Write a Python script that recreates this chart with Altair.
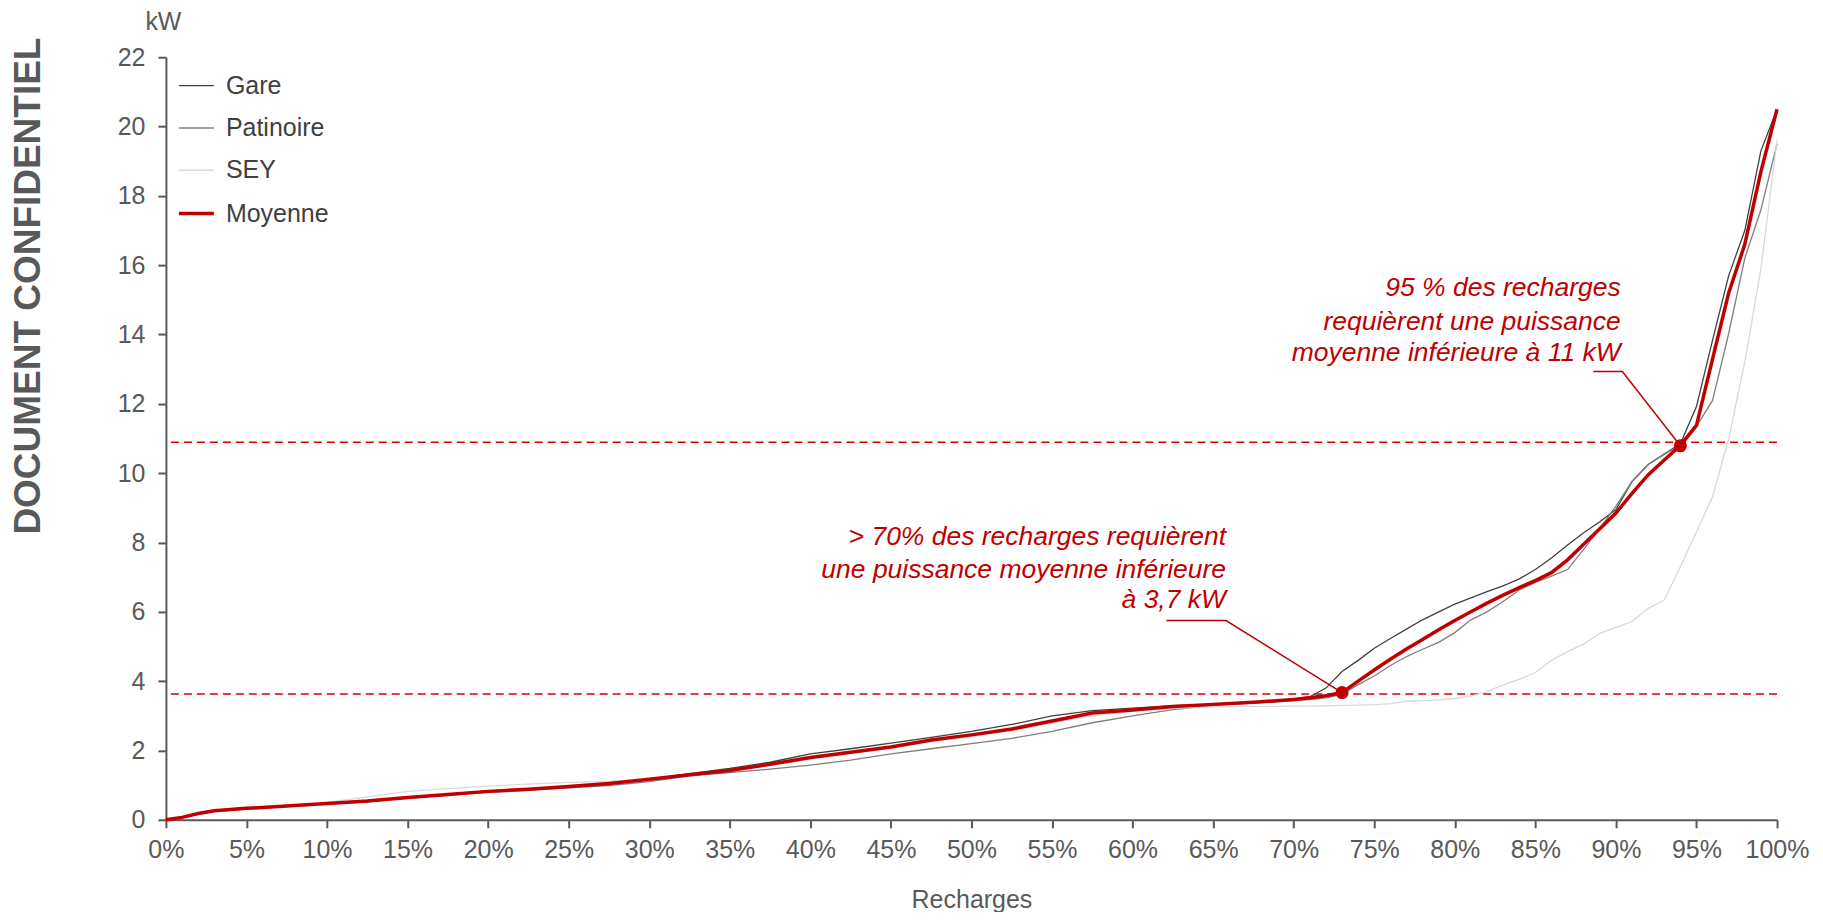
import altair as alt
import pandas as pd

# ---------------- data ----------------
recharges = [0, 1, 2, 3, 5, 7.5, 10, 12.5, 15, 17.5, 20, 22.5, 25, 27.5, 30, 32.5, 35, 37.5,
             40, 42.5, 45, 47.5, 50, 52.5, 55, 57.5, 60, 62.5, 65, 67.5, 70, 71, 72, 73, 74,
             75, 76, 77, 78, 79, 80, 81, 82, 83, 84, 85, 86, 87, 88, 89, 90, 91, 92, 93, 94,
             95, 96, 97, 98, 99, 100]

moyenne = [0, 0.07, 0.18, 0.26, 0.33, 0.40, 0.47, 0.54, 0.64, 0.73, 0.82, 0.88, 0.96, 1.05,
           1.17, 1.30, 1.42, 1.60, 1.80, 1.95, 2.10, 2.30, 2.45, 2.62, 2.85, 3.08, 3.17, 3.27,
           3.33, 3.39, 3.47, 3.52, 3.58, 3.67, 4.00, 4.32, 4.63, 4.93, 5.20, 5.48, 5.75, 6.00,
           6.25, 6.48, 6.70, 6.90, 7.13, 7.50, 7.95, 8.40, 8.85, 9.42, 9.95, 10.38, 10.80,
           11.38, 13.30, 15.20, 16.60, 18.70, 20.50]

gare = [0, 0.07, 0.18, 0.26, 0.33, 0.40, 0.47, 0.54, 0.64, 0.73, 0.82, 0.88, 0.95, 1.04,
        1.17, 1.33, 1.48, 1.66, 1.90, 2.05, 2.21, 2.38, 2.55, 2.75, 3.00, 3.15, 3.22, 3.29,
        3.33, 3.39, 3.48, 3.55, 3.80, 4.28, 4.60, 4.95, 5.23, 5.50, 5.77, 6.00, 6.22, 6.40,
        6.58, 6.75, 6.95, 7.22, 7.55, 7.93, 8.28, 8.60, 8.95, 9.76, 10.25, 10.55, 10.85,
        11.92, 13.84, 15.70, 17.00, 19.30, 20.50]

patinoire = [0, 0.06, 0.16, 0.24, 0.31, 0.38, 0.45, 0.52, 0.62, 0.71, 0.79, 0.85, 0.92, 0.99,
             1.10, 1.27, 1.36, 1.46, 1.58, 1.72, 1.90, 2.05, 2.20, 2.35, 2.55, 2.80, 3.00, 3.18,
             3.30, 3.37, 3.44, 3.47, 3.52, 3.62, 3.90, 4.15, 4.45, 4.71, 4.92, 5.12, 5.40, 5.77,
             6.00, 6.30, 6.63, 6.85, 7.03, 7.22, 7.80, 8.40, 9.05, 9.76, 10.25, 10.55, 10.80,
             11.35, 12.10, 14.03, 16.20, 17.60, 19.50]

sey = [0, 0.07, 0.18, 0.26, 0.33, 0.40, 0.50, 0.66, 0.82, 0.90, 0.97, 1.03, 1.08, 1.11,
       1.17, 1.30, 1.42, 1.58, 1.75, 1.92, 2.07, 2.25, 2.40, 2.57, 2.80, 3.00, 3.13, 3.22,
       3.26, 3.27, 3.28, 3.28, 3.29, 3.30, 3.31, 3.32, 3.35, 3.42, 3.44, 3.45, 3.50, 3.57,
       3.70, 3.89, 4.05, 4.25, 4.60, 4.85, 5.07, 5.38, 5.55, 5.72, 6.10, 6.34, 7.30, 8.30,
       9.32, 11.00, 13.20, 15.90, 19.60]

series_names = ["Gare", "Patinoire", "SEY", "Moyenne"]
series_colors = ["#404040", "#7f7f7f", "#d9d9d9", "#c00000"]
series_widths = [1.3, 1.3, 1.3, 3.5]

thresholds = [3.63, 10.89]
highlight_x = [73.0, 94.0]
highlight_y = [3.67, 10.79]

note_lines_1 = ["> 70% des recharges requièrent", "une puissance moyenne inférieure", "à 3,7 kW"]
note_y_1 = [8.17, 7.21, 6.34]
note_x_1 = 65.8
note_lines_2 = ["95 % des recharges", "requièrent une puissance", "moyenne inférieure à 11 kW"]
note_y_2 = [15.34, 14.36, 13.47]
note_x_2 = 90.3

leader_1_x = [62.1, 65.8, 73.0]
leader_1_y = [5.75, 5.75, 3.67]
leader_2_x = [88.6, 90.4, 94.0]
leader_2_y = [12.93, 12.93, 10.79]

# ---------------- tables ----------------
rows = []
for name, vals in zip(series_names, [gare, patinoire, sey, moyenne]):
    for xv, v in zip(recharges, vals):
        rows.append({"serie": name, "x": xv / 100, "kw": v})
df = pd.DataFrame(rows)

thr_df = pd.DataFrame({"kw": thresholds})
pts_df = pd.DataFrame({"x": [v / 100 for v in highlight_x], "kw": highlight_y})
notes_df = pd.DataFrame({
    "x": [note_x_1 / 100] * 3 + [note_x_2 / 100] * 3,
    "kw": note_y_1 + note_y_2,
    "t": note_lines_1 + note_lines_2,
})
lead_rows = []
for g, (xs, ys) in enumerate([(leader_1_x, leader_1_y), (leader_2_x, leader_2_y)]):
    for i, (xv, yv) in enumerate(zip(xs, ys)):
        lead_rows.append({"g": g, "i": i, "x": xv / 100, "kw": yv})
lead_df = pd.DataFrame(lead_rows)
doc_df = pd.DataFrame({"t": ["DOCUMENT CONFIDENTIEL"]})

FONT = "Liberation Sans"
GREY = "#595959"
RED = "#c00000"

x_enc = alt.X("x:Q", scale=alt.Scale(domain=[0, 1], nice=False),
              axis=alt.Axis(format=".0%", values=[i / 20 for i in range(21)],
                            title="Recharges", labelFlush=False, labelOverlap=False,
                            labelPadding=10, titleBaseline="middle", titleY=80))
y_enc = alt.Y("kw:Q", scale=alt.Scale(domain=[0, 22], nice=False),
              axis=alt.Axis(values=list(range(0, 23, 2)), title="kW", titleAngle=0,
                            titleX=-3, titleY=-36, titleAlign="center",
                            titleBaseline="middle", labelPadding=13))

legend = alt.Legend(
    title=None, orient="none", legendX=11, legendY=10,
    symbolType="stroke", symbolSize=1225,
    labelFontSize=25, labelColor="#404040", labelFont=FONT, labelOffset=10,
    rowPadding=10.3,
)
color_enc = alt.Color("serie:N", scale=alt.Scale(domain=series_names, range=series_colors),
                      legend=legend)
width_enc = alt.StrokeWidth("serie:N",
                            scale=alt.Scale(type="ordinal", domain=series_names,
                                            range=series_widths),
                            legend=legend)

grey_lines = alt.Chart(df).transform_filter(
    alt.datum.serie != "Moyenne"
).mark_line().encode(x=x_enc, y=y_enc, color=color_enc, strokeWidth=width_enc)

red_line = alt.Chart(df).transform_filter(
    alt.datum.serie == "Moyenne"
).mark_line().encode(x="x:Q", y="kw:Q", color=color_enc, strokeWidth=width_enc)

rules = alt.Chart(thr_df).mark_rule(color="#d40000", strokeWidth=1.5, strokeDash=[8, 5]).encode(
    y="kw:Q")

leaders = alt.Chart(lead_df).mark_line(color=RED, strokeWidth=1.5).encode(
    x="x:Q", y="kw:Q", detail="g:N", order="i:Q")

dots = alt.Chart(pts_df).mark_circle(color=RED, size=170, opacity=1).encode(x="x:Q", y="kw:Q")

notes = alt.Chart(notes_df).mark_text(
    align="right", baseline="middle", fontStyle="italic", fontSize=26.5, font=FONT, color=RED
).encode(x="x:Q", y="kw:Q", text="t:N")

doc = alt.Chart(doc_df).mark_text(
    angle=270, fontSize=37, fontWeight="bold", font=FONT, color=GREY,
    align="center", baseline="middle"
).encode(x=alt.value(-137), y=alt.value(229), text="t:N")

chart = alt.layer(rules, grey_lines, red_line, leaders, dots, notes, doc).properties(
    width=1612, height=763,
    autosize=alt.AutoSizeParams(type="none"),
    padding={"left": 158, "top": 49, "right": 38, "bottom": 92},
).configure_view(stroke=None).configure_axis(
    grid=False, domainColor=GREY, domainWidth=2, tickColor=GREY, tickWidth=2, tickSize=8,
    labelColor=GREY, labelFontSize=25, labelFont=FONT,
    titleColor=GREY, titleFontSize=25, titleFont=FONT, titleFontWeight="normal",
)

chart.save("out.html", embed_options={"renderer": "svg", "actions": False})
